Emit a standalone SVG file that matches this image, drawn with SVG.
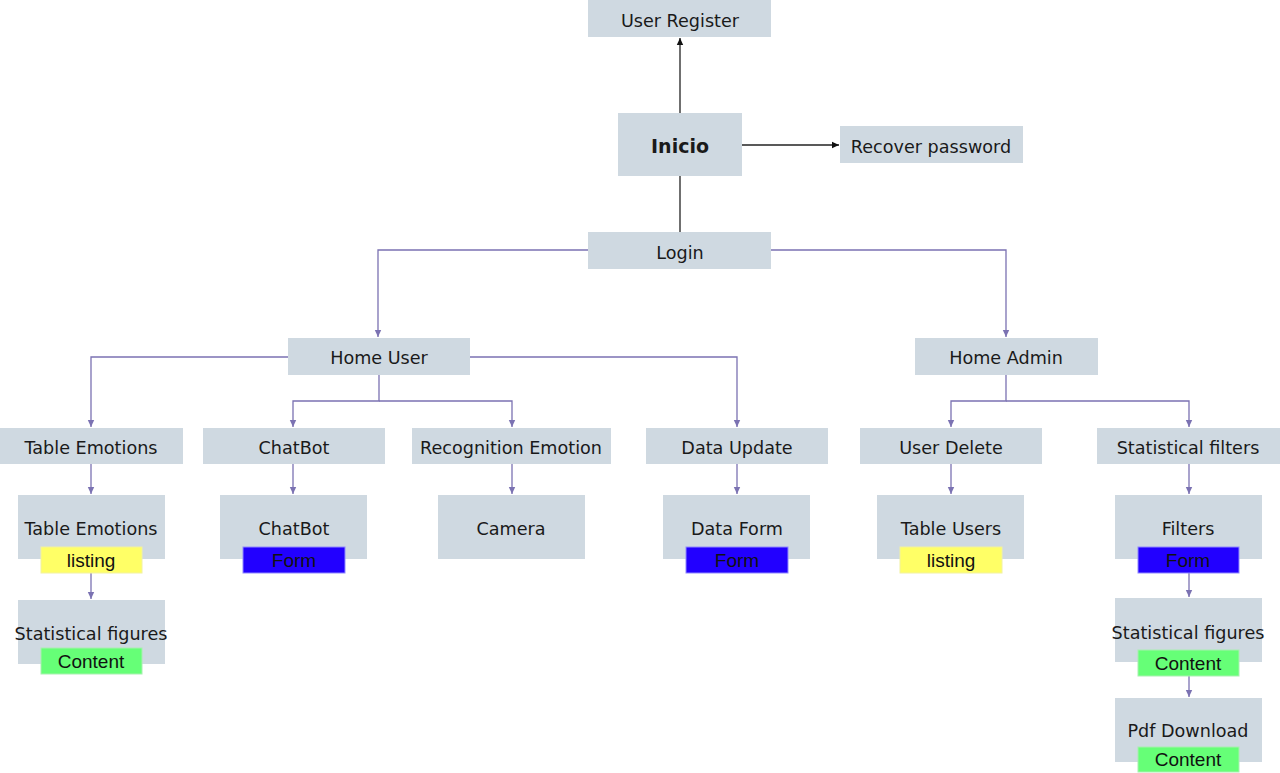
<svg xmlns="http://www.w3.org/2000/svg" width="1280" height="773" viewBox="0 0 1280 773">
<style>
.box{fill:#cfd9e1}
.t{font-family:"DejaVu Sans",Verdana,sans-serif;font-size:17.6px;fill:#1a1a1a;text-anchor:middle}
.b{font-weight:bold;font-size:19px}
.tag{font-family:"Liberation Sans",Arial,sans-serif;font-size:19px;fill:#111;text-anchor:middle}
.yl{fill:#ffff66;stroke:#f2f2a0;stroke-width:1}
.bl{fill:#2200ff;stroke:#8f88ff;stroke-width:1}
.gr{fill:#66ff77;stroke:#a8f0b0;stroke-width:1}
.c{fill:none;stroke:#7b72b2;stroke-width:1.3}
.k{fill:none;stroke:#222;stroke-width:1.3}
</style>
<defs>
<marker id="ap" markerWidth="8" markerHeight="8" refX="7" refY="4" orient="auto" markerUnits="userSpaceOnUse"><path d="M0,0.8 L7,4 L0,7.2 Z" fill="#7b72b2"/></marker>
<marker id="ak" markerWidth="8" markerHeight="8" refX="7" refY="4" orient="auto" markerUnits="userSpaceOnUse"><path d="M0,0.8 L7,4 L0,7.2 Z" fill="#111"/></marker>
</defs>
<rect width="1280" height="773" fill="#ffffff"/>
<g id="connectors">
<path class="k" d="M680,113 V38" marker-end="url(#ak)"/>
<path class="k" d="M742,145 H839" marker-end="url(#ak)"/>
<path class="k" d="M680,176 V232"/>
<path class="c" d="M588,250 H378 V337" marker-end="url(#ap)"/>
<path class="c" d="M771,250 H1006 V337" marker-end="url(#ap)"/>
<path class="c" d="M288,357 H91 V427" marker-end="url(#ap)"/>
<path class="c" d="M470,357 H737 V427" marker-end="url(#ap)"/>
<path class="c" d="M379,375 V401 H293 V427" marker-end="url(#ap)"/>
<path class="c" d="M379,401 H512 V427" marker-end="url(#ap)"/>
<path class="c" d="M1006,374 V401 H951 V427" marker-end="url(#ap)"/>
<path class="c" d="M1006,401 H1189 V427" marker-end="url(#ap)"/>
<path class="c" d="M91,464 V494" marker-end="url(#ap)"/>
<path class="c" d="M293,464 V494" marker-end="url(#ap)"/>
<path class="c" d="M512,464 V494" marker-end="url(#ap)"/>
<path class="c" d="M737,464 V494" marker-end="url(#ap)"/>
<path class="c" d="M951,464 V494" marker-end="url(#ap)"/>
<path class="c" d="M1189,464 V494" marker-end="url(#ap)"/>
<path class="c" d="M91,573 V599" marker-end="url(#ap)"/>
<path class="c" d="M1189,573 V597" marker-end="url(#ap)"/>
<path class="c" d="M1189,676 V697" marker-end="url(#ap)"/>
</g>
<g id="user-register"><rect class="box" x="588" y="0" width="183" height="37"/><text class="t" x="680" y="27">User Register</text></g>
<g id="inicio"><rect class="box" x="618" y="113" width="124" height="63"/><text class="t b" x="680" y="153">Inicio</text></g>
<g id="recover-password"><rect class="box" x="840" y="126" width="183" height="37"/><text class="t" x="931" y="153">Recover password</text></g>
<g id="login"><rect class="box" x="588" y="232" width="183" height="37"/><text class="t" x="680" y="259">Login</text></g>
<g id="home-user"><rect class="box" x="288" y="338" width="182" height="37"/><text class="t" x="379" y="364">Home User</text></g>
<g id="home-admin"><rect class="box" x="915" y="338" width="183" height="37"/><text class="t" x="1006" y="364">Home Admin</text></g>
<g id="table-emotions"><rect class="box" x="0" y="428" width="183" height="36"/><text class="t" x="91" y="454">Table Emotions</text></g>
<g id="chatbot"><rect class="box" x="203" y="428" width="182" height="36"/><text class="t" x="294" y="454">ChatBot</text></g>
<g id="recognition-emotion"><rect class="box" x="412" y="428" width="199" height="36"/><text class="t" x="511" y="454">Recognition Emotion</text></g>
<g id="data-update"><rect class="box" x="646" y="428" width="182" height="36"/><text class="t" x="737" y="454">Data Update</text></g>
<g id="user-delete"><rect class="box" x="860" y="428" width="182" height="36"/><text class="t" x="951" y="454">User Delete</text></g>
<g id="statistical-filters"><rect class="box" x="1097" y="428" width="183" height="36"/><text class="t" x="1188" y="454">Statistical filters</text></g>
<g id="table-emotions-listing"><rect class="box" x="18" y="495" width="147" height="64"/><text class="t" x="91" y="535">Table Emotions</text><rect class="yl" x="41" y="547" width="101" height="26"/><text class="tag" x="91" y="567">listing</text></g>
<g id="chatbot-form"><rect class="box" x="220" y="495" width="147" height="64"/><text class="t" x="294" y="535">ChatBot</text><rect class="bl" x="243" y="547" width="102" height="26"/><text class="tag" x="294" y="567">Form</text></g>
<g id="camera"><rect class="box" x="438" y="495" width="147" height="64"/><text class="t" x="511" y="535">Camera</text></g>
<g id="data-form"><rect class="box" x="663" y="495" width="147" height="64"/><text class="t" x="737" y="535">Data Form</text><rect class="bl" x="686" y="547" width="102" height="26"/><text class="tag" x="737" y="567">Form</text></g>
<g id="table-users"><rect class="box" x="877" y="495" width="147" height="64"/><text class="t" x="951" y="535">Table Users</text><rect class="yl" x="900" y="547" width="102" height="26"/><text class="tag" x="951" y="567">listing</text></g>
<g id="filters"><rect class="box" x="1115" y="495" width="147" height="64"/><text class="t" x="1188" y="535">Filters</text><rect class="bl" x="1138" y="547" width="101" height="26"/><text class="tag" x="1188" y="567">Form</text></g>
<g id="statistical-figures-left"><rect class="box" x="18" y="600" width="147" height="64"/><text class="t" x="91" y="640">Statistical figures</text><rect class="gr" x="41" y="648" width="101" height="26"/><text class="tag" x="91" y="668">Content</text></g>
<g id="statistical-figures-right"><rect class="box" x="1115" y="598" width="147" height="64"/><text class="t" x="1188" y="639">Statistical figures</text><rect class="gr" x="1138" y="650" width="101" height="26"/><text class="tag" x="1188" y="670">Content</text></g>
<g id="pdf-download"><rect class="box" x="1115" y="698" width="147" height="64"/><text class="t" x="1188" y="737">Pdf Download</text><rect class="gr" x="1138" y="747" width="101" height="25"/><text class="tag" x="1188" y="766">Content</text></g>
</svg>
